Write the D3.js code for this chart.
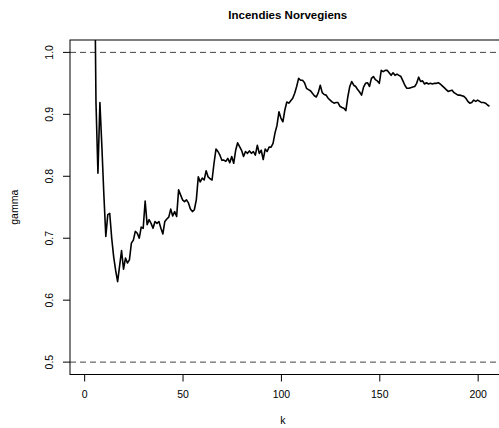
<!DOCTYPE html>
<html><head><meta charset="utf-8">
<script src="https://cdn.jsdelivr.net/npm/d3@7"></script>
<style>
html,body{margin:0;padding:0;background:#fff;}
svg{display:block;font-family:"Liberation Sans",Arial,Helvetica,sans-serif;}
</style></head>
<body>
<script>
const title = "Incendies Norvegiens";
const xLabel = "k";
const yLabel = "gamma";
const xTicks = [0, 50, 100, 150, 200];
const yTicks = [0.5, 0.6, 0.7, 0.8, 0.9, 1.0];
const refLines = [0.5, 1.0];
const kStart = 1;
const gamma = [
 1.60, 1.48, 1.40, 1.32, 1.25, 0.92, 0.805, 0.919, 0.848, 0.771,
 0.703, 0.738, 0.740, 0.700, 0.670, 0.648, 0.630, 0.655, 0.680, 0.650,
 0.668, 0.660, 0.665, 0.692, 0.697, 0.711, 0.708, 0.700, 0.718, 0.716,
 0.760, 0.722, 0.730, 0.724, 0.716, 0.727, 0.724, 0.727, 0.716, 0.707,
 0.727, 0.731, 0.734, 0.747, 0.736, 0.743, 0.735, 0.778, 0.770, 0.762,
 0.759, 0.762, 0.757, 0.747, 0.743, 0.746, 0.762, 0.799, 0.791, 0.797,
 0.794, 0.809, 0.799, 0.796, 0.794, 0.821, 0.844, 0.840, 0.834, 0.826,
 0.826, 0.824, 0.829, 0.822, 0.832, 0.821, 0.842, 0.854, 0.848, 0.842,
 0.832, 0.840, 0.837, 0.841, 0.837, 0.840, 0.834, 0.850, 0.837, 0.842,
 0.827, 0.844, 0.840, 0.847, 0.847, 0.853, 0.870, 0.882, 0.904, 0.894,
 0.888, 0.907, 0.920, 0.918, 0.922, 0.926, 0.934, 0.945, 0.958, 0.955,
 0.955, 0.951, 0.942, 0.940, 0.938, 0.934, 0.930, 0.928, 0.935, 0.947,
 0.935, 0.932, 0.931, 0.926, 0.923, 0.920, 0.918, 0.919, 0.919, 0.913,
 0.911, 0.910, 0.906, 0.928, 0.945, 0.953, 0.947, 0.945, 0.940, 0.936,
 0.931, 0.944, 0.950, 0.951, 0.945, 0.958, 0.961, 0.956, 0.954, 0.950,
 0.971, 0.969, 0.971, 0.971, 0.967, 0.963, 0.967, 0.963, 0.965, 0.963,
 0.961, 0.954, 0.947, 0.942, 0.942, 0.943, 0.944, 0.945, 0.950, 0.960,
 0.953, 0.954, 0.949, 0.951, 0.949, 0.950, 0.949, 0.950, 0.950, 0.951,
 0.949, 0.946, 0.943, 0.940, 0.937, 0.938, 0.939, 0.935, 0.933, 0.931,
 0.931, 0.930, 0.929, 0.926, 0.921, 0.918, 0.919, 0.923, 0.921, 0.923,
 0.921, 0.919, 0.919, 0.918, 0.915, 0.913
];

const W = 499, H = 428;
const plot = {left: 70, right: 505.6, top: 40, bottom: 374.5};

const data = gamma.map((g, i) => ({k: kStart + i, g}));
const kMin = kStart, kMax = kStart + gamma.length - 1;
const pad = 0.04 * (kMax - kMin);

const x = d3.scaleLinear().domain([kMin - pad, kMax + pad]).range([plot.left, plot.right]);
const y = d3.scaleLinear().domain([0.48, 1.02]).range([plot.bottom, plot.top]);

const svg = d3.select("body").append("svg").attr("width", W).attr("height", H);

svg.append("defs").append("clipPath").attr("id", "clip")
  .append("rect").attr("x", plot.left).attr("y", plot.top)
  .attr("width", plot.right - plot.left).attr("height", plot.bottom - plot.top);

// reference lines
svg.append("g").selectAll("line").data(refLines).join("line")
  .attr("x1", plot.left).attr("x2", plot.right)
  .attr("y1", d => y(d)).attr("y2", d => y(d))
  .attr("stroke", "#444").attr("stroke-width", 1)
  .attr("stroke-dasharray", "6,4");

// series
svg.append("path").datum(data)
  .attr("clip-path", "url(#clip)")
  .attr("fill", "none").attr("stroke", "#000").attr("stroke-width", 1.6)
  .attr("stroke-linejoin", "round")
  .attr("d", d3.line().x(d => x(d.k)).y(d => y(d.g)));

// box
svg.append("rect").attr("x", plot.left).attr("y", plot.top)
  .attr("width", plot.right - plot.left).attr("height", plot.bottom - plot.top)
  .attr("fill", "none").attr("stroke", "#000").attr("stroke-width", 1);

// x axis
const xAxis = d3.axisBottom(x).tickValues(xTicks).tickSize(7).tickPadding(9).tickFormat(d3.format("d"));
const gx = svg.append("g").attr("transform", `translate(0,${plot.bottom})`).call(xAxis);
gx.select(".domain").remove();
gx.selectAll("text").attr("font-size", "10.5px").attr("fill", "#000")
  .attr("font-family", "Liberation Sans, Arial, sans-serif");

// y axis
const yAxis = d3.axisLeft(y).tickValues(yTicks).tickSize(7).tickFormat(d3.format(".1f"));
const gy = svg.append("g").attr("transform", `translate(${plot.left},0)`).call(yAxis);
gy.select(".domain").remove();
gy.selectAll("text")
  .attr("font-size", "10.5px").attr("fill", "#000")
  .attr("font-family", "Liberation Sans, Arial, sans-serif")
  .attr("transform", d => `rotate(-90, -21, ${y(d)})`)
  .attr("x", -21).attr("y", d => y(d)).attr("dy", "0.35em")
  .attr("text-anchor", "middle");
gy.selectAll(".tick").attr("transform", null);
gy.selectAll(".tick line").attr("y1", d => y(d)).attr("y2", d => y(d));

// labels
svg.append("text").attr("x", (plot.left + plot.right) / 2).attr("y", 19)
  .attr("text-anchor", "middle").attr("font-weight", "bold").attr("font-size", "11.5px")
  .text(title);
svg.append("text").attr("x", x(101)).attr("y", 424)
  .attr("text-anchor", "middle").attr("font-size", "10.5px").text(xLabel);
svg.append("text").attr("transform", `translate(18,${(plot.top + plot.bottom) / 2}) rotate(-90)`)
  .attr("text-anchor", "middle").attr("font-size", "10.5px").text(yLabel);
</script>
</body></html>
